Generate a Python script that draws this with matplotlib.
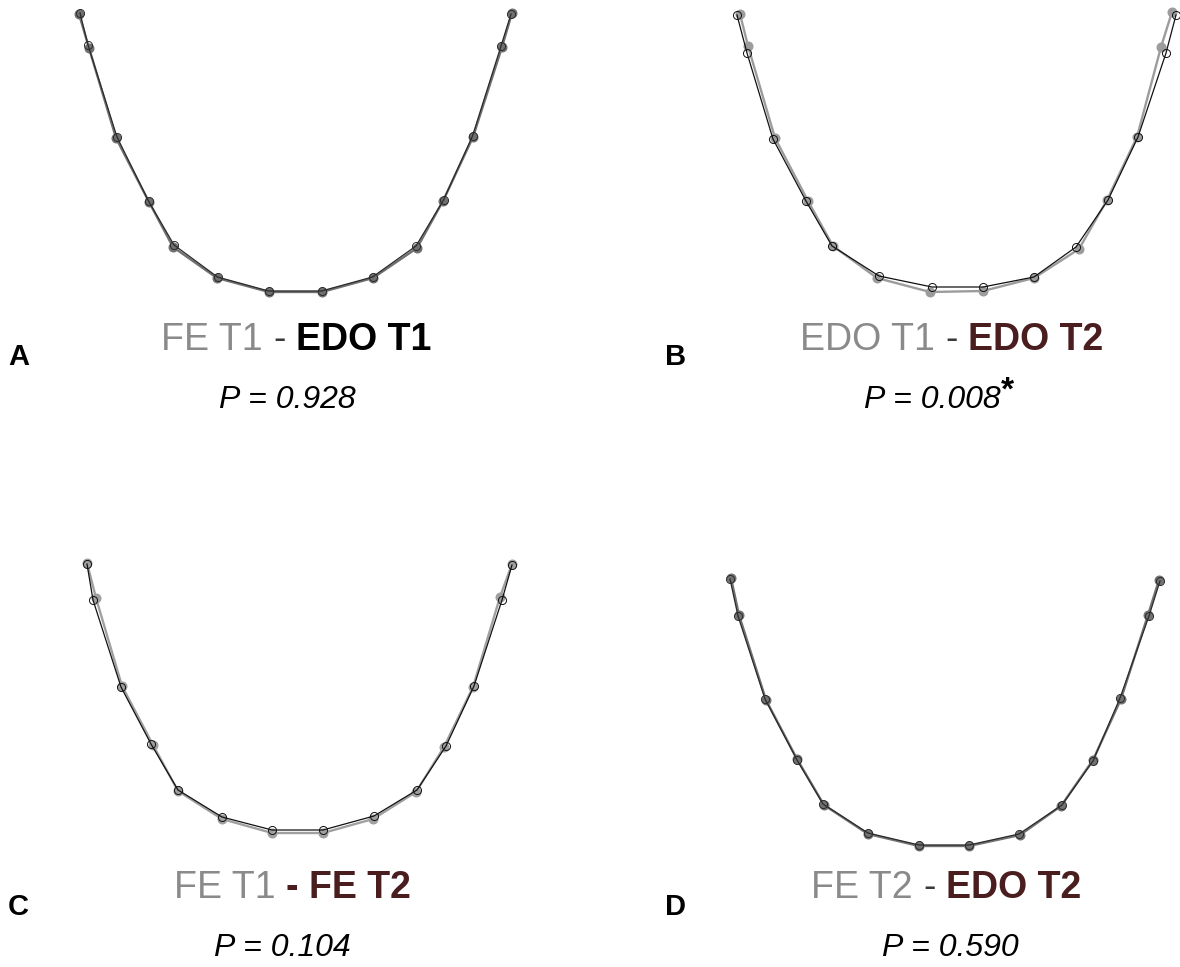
import matplotlib
matplotlib.use("Agg")
import matplotlib.pyplot as plt

plt.rcParams["font.family"] = ["Liberation Sans", "DejaVu Sans"]

# Mean arch landmarks (mm), 14 points from left to right, y measured up from the incisors
a_fe_t1_x = [-21.65, -20.65, -17.95, -14.65, -12.25, -7.85, -2.65, 2.65, 7.75, 12.15, 14.75, 17.75, 20.65, 21.65]
a_fe_t1_y = [27.8, 24.4, 15.4, 9.0, 4.5, 1.4, 0.0, 0.0, 1.4, 4.4, 9.1, 15.5, 24.5, 27.9]
a_edo_t1_x = [-21.55, -20.75, -17.85, -14.70, -12.15, -7.80, -2.70, 2.60, 7.70, 12.05, 14.80, 17.70, 20.55, 21.55]
a_edo_t1_y = [27.9, 24.7, 15.5, 9.1, 4.7, 1.5, 0.1, 0.1, 1.5, 4.6, 9.2, 15.6, 24.6, 27.8]

b_edo_t1_x = [-21.6, -20.8, -18.1, -14.8, -12.3, -7.9, -2.6, 2.7, 7.8, 12.3, 15.1, 18.1, 20.5, 21.6]
b_edo_t1_y = [27.8, 24.6, 15.4, 9.1, 4.6, 1.4, 0.0, 0.1, 1.4, 4.3, 9.2, 15.5, 24.5, 28.0]
b_edo_t2_x = [-21.9, -20.9, -18.3, -15.0, -12.4, -7.7, -2.4, 2.7, 7.8, 12.0, 15.2, 18.2, 21.0, 22.0]
b_edo_t2_y = [27.7, 23.9, 15.3, 9.1, 4.6, 1.6, 0.5, 0.5, 1.5, 4.5, 9.2, 15.5, 23.9, 27.7]

c_fe_t1_x = [-21.25, -20.35, -17.75, -14.65, -12.15, -7.75, -2.75, 2.35, 7.35, 11.65, 14.45, 17.35, 20.05, 21.25]
c_fe_t1_y = [27.0, 23.5, 14.7, 8.8, 4.2, 1.4, 0.0, 0.0, 1.4, 4.1, 8.6, 14.6, 23.6, 26.9]
c_fe_t2_x = [-21.25, -20.65, -17.85, -14.85, -12.15, -7.75, -2.75, 2.35, 7.45, 11.75, 14.65, 17.45, 20.25, 21.25]
c_fe_t2_y = [26.9, 23.3, 14.6, 8.9, 4.3, 1.6, 0.3, 0.3, 1.7, 4.3, 8.7, 14.7, 23.3, 26.8]

d_fe_t2_x = [-21.4, -20.6, -17.9, -14.8, -12.1, -7.7, -2.6, 2.4, 7.5, 11.6, 14.8, 17.6, 20.3, 21.4]
d_fe_t2_y = [26.8, 23.1, 14.6, 8.7, 4.1, 1.2, 0.0, 0.0, 1.1, 4.0, 8.6, 14.7, 23.1, 26.6]
d_edo_t2_x = [-21.5, -20.7, -18.0, -14.8, -12.2, -7.7, -2.6, 2.4, 7.4, 11.7, 14.8, 17.5, 20.4, 21.5]
d_edo_t2_y = [26.7, 23.0, 14.7, 8.6, 4.2, 1.3, 0.1, 0.1, 1.2, 4.1, 8.5, 14.8, 23.0, 26.5]

panel_letters = ["A", "B", "C", "D"]
first_groups = ["FE T1", "EDO T1", "FE T1", "FE T2"]
second_groups = ["EDO T1", "EDO T2", "FE T2", "EDO T2"]
p_values = ["0.928", "0.008", "0.104", "0.590"]
significant = [False, True, False, False]

W, H = 1180, 967
fig = plt.figure(figsize=(W / 100, H / 100), dpi=100)
renderer = fig.canvas.get_renderer()

GREY_TXT = "#8a8a8a"
BROWN = "#4a1d1f"


def add_arch(anchor, grey_xy, black_xy, grey_col, black_col):
    """Overlay two landmark configurations in an axes anchored at pixel (cx, base)."""
    cx, base = anchor
    # 10 px per mm in both directions
    ax = fig.add_axes([(cx - 260) / W, (H - base - 20) / H, 520 / W, 320 / H])
    ax.set_xlim(-26, 26)
    ax.set_ylim(-2, 30)
    ax.axis("off")
    ax.plot(*grey_xy, color=grey_col, lw=1.7, marker="o", ms=6.2,
            mfc=grey_col, mec=grey_col, zorder=2)
    ax.plot(*black_xy, color=black_col, lw=0.9, marker="o", ms=5.8,
            mfc="none", mec=black_col, mew=0.7, zorder=3)
    return ax


def text_line(cx, baseline, parts, gap):
    """Place differently styled pieces side by side, centred on cx (pixels)."""
    objs, widths = [], []
    for s, kw in parts:
        t = fig.text(0, 0, s, ha="left", va="baseline", **kw)
        objs.append(t)
        widths.append(t.get_window_extent(renderer).width)
    total = sum(widths) + gap * (len(parts) - 1)
    x = cx - total / 2
    for (s, kw), t, w in zip(parts, objs, widths):
        dy = 8 if kw.get("gid") == "raised" else 0
        t.set_position((x / W, (H - baseline + dy) / H))
        x += w + gap


anchors = [(295.5, 292), (956, 292), (299.5, 833), (945, 846)]
series = [
    ((a_fe_t1_x, a_fe_t1_y), (a_edo_t1_x, a_edo_t1_y), "#707070", "#2a2a2a"),
    ((b_edo_t1_x, b_edo_t1_y), (b_edo_t2_x, b_edo_t2_y), "#9c9c9c", "#111111"),
    ((c_fe_t1_x, c_fe_t1_y), (c_fe_t2_x, c_fe_t2_y), "#a0a0a0", "#111111"),
    ((d_fe_t2_x, d_fe_t2_y), (d_edo_t2_x, d_edo_t2_y), "#727272", "#2a2a2a"),
]
for anchor, (g, b, gcol, bcol) in zip(anchors, series):
    add_arch(anchor, g, b, gcol, bcol)

title_pos = [(296, 350), (952, 350), (292, 898), (946, 898)]
p_pos = [(287, 408), (939, 408), (282, 956), (950, 956)]
letter_pos = [(8, 365), (665, 365), (8, 915), (665, 915)]
title_fs = 27
gap = 0.278 * title_fs * 100 / 72

for i in range(4):
    strong = "black" if i == 0 else BROWN
    dash = {"fontsize": title_fs, "color": "#3a3a3a"}
    if i == 2:
        dash = {"fontsize": title_fs, "color": BROWN, "fontweight": "bold"}
    text_line(*title_pos[i], [
        (first_groups[i], {"fontsize": title_fs, "color": GREY_TXT}),
        ("-", dash),
        (second_groups[i], {"fontsize": title_fs, "color": strong, "fontweight": "bold"}),
    ], gap)

    p_parts = [(f"P = {p_values[i]}", {"fontsize": 23, "style": "italic", "color": "black"})]
    if significant[i]:
        p_parts.append(("*", {"fontsize": 24, "color": "black", "fontweight": "bold", "gid": "raised"}))
    text_line(*p_pos[i], p_parts, 0)

    lx, ly = letter_pos[i]
    fig.text(lx / W, (H - ly) / H, panel_letters[i], fontsize=21, fontweight="bold",
             ha="left", va="baseline")

fig.savefig("out.png", dpi=100, facecolor="white")
